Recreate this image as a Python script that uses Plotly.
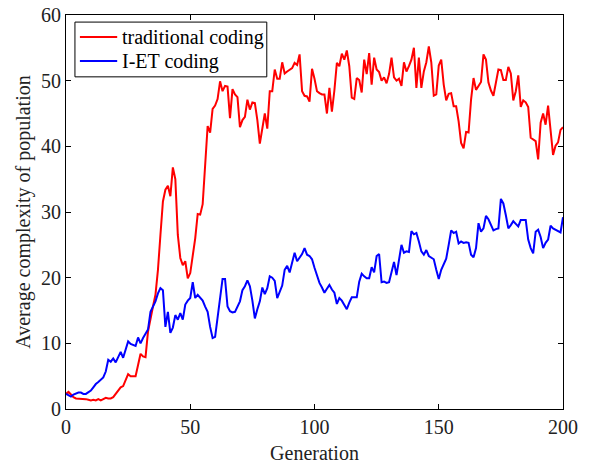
import plotly.graph_objects as go

# Generation index and the average complexity of each population
generation = list(range(0, 201))

traditional_coding = [
    2.3, 2.6, 2.2, 1.8, 1.6, 1.6, 1.5, 1.5, 1.5, 1.4,
    1.3, 1.4, 1.3, 1.5, 1.3, 1.5, 1.7, 1.6, 1.6, 1.8,
    2.3, 2.9, 3.3, 3.5, 4.4, 5.3, 5.0, 5.0, 5.0, 6.7,
    8.4, 8.0, 7.9, 11.8, 14.0, 15.6, 17.4, 21.2, 26.5, 31.6,
    33.4, 34.0, 32.4, 36.8, 35.0, 26.5, 23.0, 21.9, 22.5, 19.9,
    20.7, 23.2, 26.0, 29.7, 29.6, 31.2, 36.9, 43.1, 42.1, 45.7,
    46.2, 47.2, 49.9, 48.4, 49.2, 49.1, 44.3, 48.7, 47.9, 47.5,
    42.9, 44.0, 44.5, 47.1, 45.6, 46.7, 46.6, 44.0, 40.4, 43.0,
    45.0, 42.7, 48.4, 48.4, 51.7, 50.3, 50.3, 52.8, 51.1, 51.4,
    51.6, 51.9, 52.7, 52.4, 54.0, 48.4, 47.7, 47.6, 46.8, 51.8,
    50.3, 48.4, 48.1, 47.9, 47.9, 45.0, 48.9, 45.3, 48.5, 52.7,
    52.2, 54.1, 53.2, 54.6, 52.2, 47.4, 47.2, 50.4, 50.1, 48.2,
    53.2, 51.0, 54.2, 49.4, 53.5, 51.7, 51.3, 50.0, 50.5, 49.6,
    51.0, 53.5, 50.5, 50.0, 50.3, 49.2, 52.8, 51.4, 52.2, 53.2,
    55.0, 48.9, 53.5, 48.9, 51.4, 52.8, 55.2, 52.8, 47.7, 47.9,
    52.3, 53.2, 49.4, 47.0, 48.0, 48.1, 46.1, 46.1, 43.8, 40.5,
    39.7, 42.2, 42.1, 47.1, 50.4, 48.6, 49.2, 49.8, 54.0, 53.2,
    49.7, 48.5, 47.7, 49.6, 51.7, 51.6, 50.1, 50.1, 52.1, 51.1,
    47.0, 48.4, 50.8, 46.0, 47.0, 46.7, 46.0, 41.3, 41.1, 40.8,
    38.0, 43.6, 45.0, 43.3, 46.2, 42.7, 38.7, 40.1, 40.6, 42.5,
    42.9,
]

iet_coding = [
    2.3, 2.1, 1.9, 2.2, 2.4, 2.5, 2.5, 2.3, 2.3, 2.6,
    2.8, 3.3, 3.8, 4.1, 4.4, 4.8, 5.7, 7.5, 7.2, 7.7,
    7.1, 7.9, 8.7, 7.8, 9.2, 10.3, 9.9, 9.7, 9.6, 10.9,
    10.0, 10.8, 11.5, 12.1, 14.8, 15.6, 16.4, 17.6, 18.4, 18.1,
    12.5, 14.8, 11.6, 12.4, 14.3, 13.6, 14.6, 13.6, 15.9, 16.5,
    16.9, 19.3, 16.9, 17.4, 17.0, 16.5, 15.6, 14.8, 12.5, 10.8,
    11.0, 14.0, 17.5, 19.8, 19.8, 15.6, 14.9, 14.7, 14.8, 15.5,
    16.4, 18.1, 18.7, 19.6, 18.7, 16.5, 13.8, 15.2, 16.4, 18.5,
    17.5, 18.4, 20.2, 20.0, 19.5, 16.9, 17.8, 18.8, 21.2, 21.8,
    20.8, 22.5, 23.8, 22.5, 23.1, 23.6, 24.5, 23.5, 23.3, 22.8,
    21.5, 20.2, 19.2, 18.5, 17.7, 18.3, 18.9, 18.2, 17.7, 16.0,
    16.9, 16.5, 15.9, 15.2, 16.2, 17.0, 17.0, 17.0, 19.4, 20.6,
    20.2, 19.9, 19.9, 21.6, 20.8, 23.3, 23.6, 19.3, 19.4, 19.2,
    19.3, 21.0, 22.4, 20.4, 22.5, 25.0, 23.8, 24.0, 23.9, 27.1,
    26.6, 26.8, 25.5, 24.0, 23.5, 24.2, 23.3, 23.0, 22.8, 21.2,
    19.8, 21.2, 22.2, 22.9, 25.0, 27.2, 26.8, 27.0, 25.2, 25.5,
    25.3, 25.4, 25.3, 23.5, 23.1, 24.5, 28.3, 27.0, 27.5, 29.4,
    28.9, 28.0, 27.2, 27.4, 27.5, 32.0, 31.3, 29.5, 27.5, 28.0,
    28.6, 28.2, 27.8, 28.8, 28.8, 28.8, 25.8, 24.5, 23.7, 27.0,
    27.3, 26.2, 24.5, 25.3, 25.8, 27.9, 27.5, 27.3, 27.2, 26.9,
    29.2,
]

series_names = ["traditional coding", "I-ET coding"]
series_colors = ["#ff0000", "#0000ff"]

x_ticks = [0, 50, 100, 150, 200]
y_ticks = [0, 10, 20, 30, 40, 50, 60]

FONT = "Liberation Serif"
TEXT_SIZE = 20
TEXT_COLOR = "#222222"

fig = go.Figure()
for name, values, color in zip(series_names, [traditional_coding, iet_coding], series_colors):
    fig.add_trace(go.Scatter(
        x=generation, y=values, mode="lines", name=name,
        line=dict(color=color, width=2), showlegend=False,
    ))

axis_common = dict(
    showline=True, linecolor="black", linewidth=1, mirror="ticks",
    ticks="inside", ticklen=5, tickcolor="black", tickwidth=1,
    showgrid=False, zeroline=False, automargin=False,
    tickfont=dict(family=FONT, size=TEXT_SIZE, color=TEXT_COLOR),
)

fig.update_xaxes(
    range=[0, 200], tickvals=x_ticks,
    title=dict(text="Generation", font=dict(family=FONT, size=TEXT_SIZE, color=TEXT_COLOR), standoff=8),
    **axis_common,
)
fig.update_yaxes(
    range=[0, 60], tickvals=y_ticks,
    title=dict(text="Average complexity of population", font=dict(family=FONT, size=TEXT_SIZE, color=TEXT_COLOR), standoff=5),
    **axis_common,
)

# Boxed legend in the upper-left corner of the axes (paper coordinates)
legend_box = dict(x0=0.018, x1=0.404, y0=0.843, y1=0.982)
legend_rows_y = [0.944, 0.883]
sample_x = (0.028, 0.103)
label_x = 0.109

shapes = [dict(type="rect", xref="paper", yref="paper",
               line=dict(color="black", width=1), fillcolor="white", layer="above",
               **legend_box)]
annotations = []
for name, color, ry in zip(series_names, series_colors, legend_rows_y):
    shapes.append(dict(type="line", xref="paper", yref="paper", layer="above",
                       x0=sample_x[0], x1=sample_x[1], y0=ry, y1=ry,
                       line=dict(color=color, width=2)))
    annotations.append(dict(xref="paper", yref="paper", x=label_x, y=ry,
                            xanchor="left", yanchor="middle", showarrow=False,
                            text=name, font=dict(family=FONT, size=TEXT_SIZE, color="black")))

fig.update_layout(
    width=590, height=466,
    margin=dict(l=66, r=27, t=15, b=57),
    paper_bgcolor="white", plot_bgcolor="white",
    shapes=shapes, annotations=annotations,
)

fig.write_html("out.html")
